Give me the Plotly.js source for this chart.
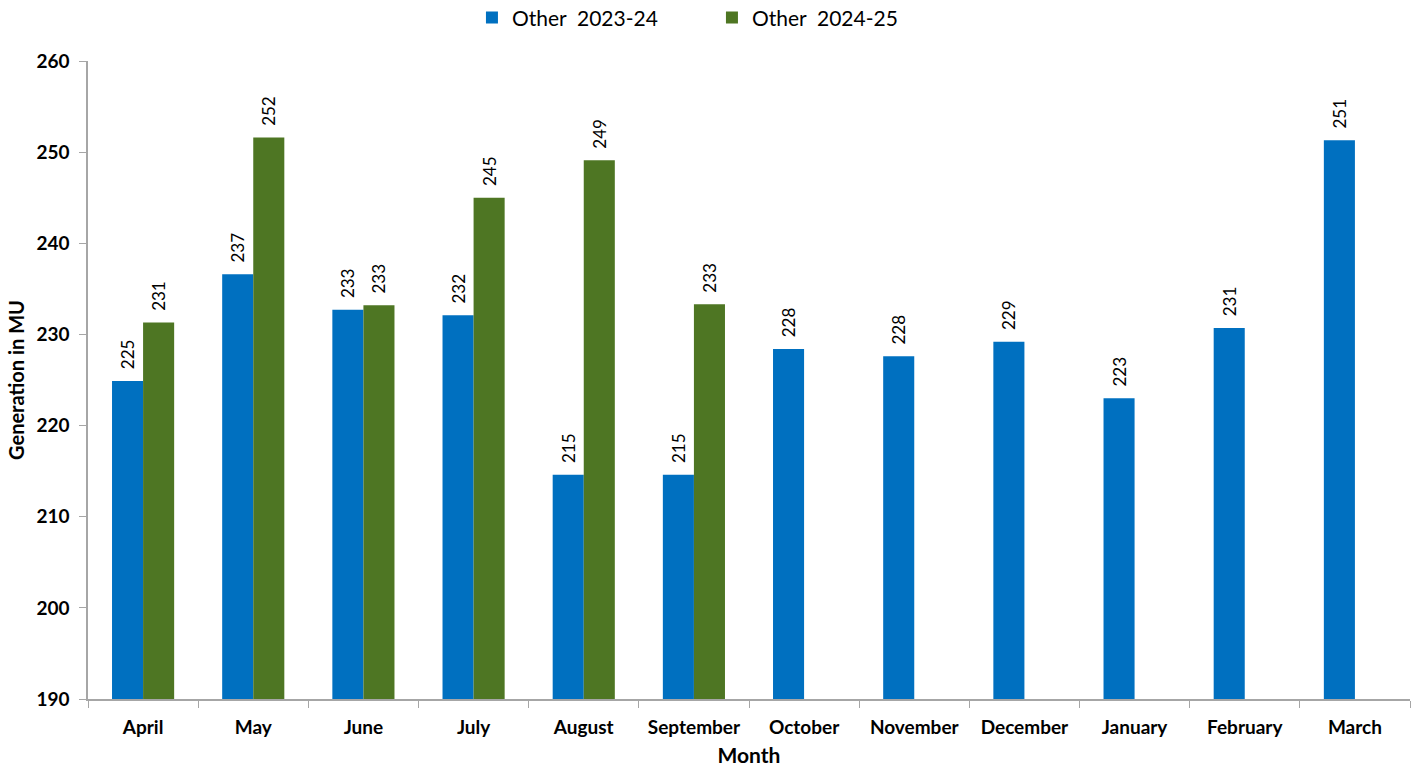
<!DOCTYPE html>
<html>
<head>
<meta charset="utf-8">
<script src="https://cdn.plot.ly/plotly-3.0.1.min.js"></script>
<style>
  html, body { margin: 0; padding: 0; background: #fff; }
  #chart { width: 1416px; height: 773px; }
</style>
</head>
<body>
<div id="chart"></div>
<script>
const months = ['April', 'May', 'June', 'July', 'August', 'September',
    'October', 'November', 'December', 'January', 'February', 'March'];
const other2324 = [224.9, 236.6, 232.7, 232.1, 214.6, 214.6, 228.4, 227.6, 229.2, 223.0, 230.7, 251.3];
const other2425 = [231.3, 251.6, 233.2, 245.0, 249.1, 233.3, null, null, null, null, null, null];
const yTicks = [190, 200, 210, 220, 230, 240, 250, 260];

const font = 'Lato, "Open Sans", sans-serif';

function series(name, values, color) {
    return {
        x: months,
        y: values,
        name: name,
        type: 'bar',
        marker: { color: color, line: { width: 0 } },
        // leading spaces lift the rotated label off the bar top
        texttemplate: '\u00a0\u00a0%{y:.0f}',
        textposition: 'outside',
        textangle: -90,
        constraintext: 'none',
        cliponaxis: false,
        textfont: { family: font, size: 17, color: '#000' },
        hoverinfo: 'x+y'
    };
}

const data = [
    series('Other  2023-24', other2324, '#0070c0'),
    series('Other  2024-25', other2425, '#4e7623')
];

const layout = {
    width: 1416,
    height: 773,
    margin: { t: 61, r: 6, b: 74, l: 88 },
    paper_bgcolor: '#fff',
    plot_bgcolor: '#fff',
    barmode: 'group',
    bargap: 0.436,
    bargroupgap: 0,
    font: { family: font, color: '#000' },
    showlegend: true,
    legend: {
        orientation: 'h',
        xref: 'container', yref: 'container',
        x: 0.3333, xanchor: 'left',
        y: 0.977, yanchor: 'middle',
        font: { family: font, size: 21 },
        itemwidth: 30,
        entrywidth: 195,
        traceorder: 'normal'
    },
    xaxis: {
        type: 'category',
        tickson: 'boundaries',
        ticks: 'outside',
        ticklen: 7,
        tickcolor: '#a6a6a6',
        showline: true,
        linecolor: '#a6a6a6',
        linewidth: 1.5,
        showgrid: false,
        ticklabelstandoff: 10,
        tickfont: { family: font, size: 19, color: '#000', weight: 'bold' },
        title: { text: 'Month', font: { family: font, size: 21, weight: 'bold' }, standoff: 12 }
    },
    yaxis: {
        range: [190, 260],
        tickvals: yTicks,
        ticks: 'outside',
        ticklen: 7,
        tickcolor: '#a6a6a6',
        showline: true,
        linecolor: '#a6a6a6',
        linewidth: 1.5,
        showgrid: false,
        zeroline: false,
        ticklabelstandoff: 6,
        tickfont: { family: font, size: 19, color: '#000', weight: 'bold' },
        title: { text: 'Generation in MU', font: { family: font, size: 20, weight: 'bold' }, standoff: 6 }
    }
};

Plotly.newPlot('chart', data, layout, { displayModeBar: false });
</script>
</body>
</html>
